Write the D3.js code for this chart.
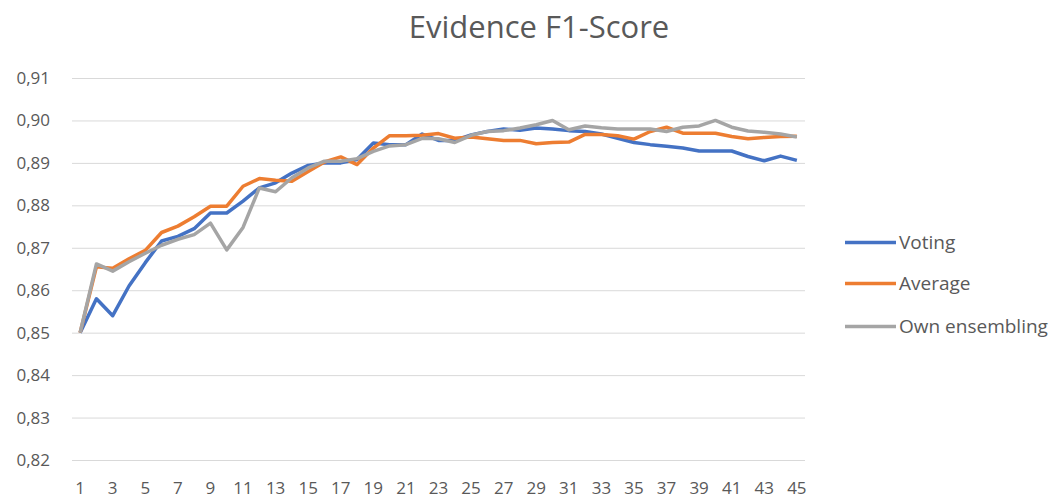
<!DOCTYPE html>
<html>
<head>
<meta charset="utf-8">
<script src="https://cdn.jsdelivr.net/npm/d3@7"></script>
<style>
  body { margin: 0; background: #fff; }
  text { font-family: "Open Sans", sans-serif; fill: #595959; }
</style>
</head>
<body>
<div id="chart"></div>
<script>
// epochs / categories on the x axis
const epochs = d3.range(1, 46);
const seriesNames = ["Voting", "Average", "Own ensembling"];
const seriesColors = ["#4472C4", "#ED7D31", "#A5A5A5"];
const yTicks = [0.82, 0.83, 0.84, 0.85, 0.86, 0.87, 0.88, 0.89, 0.90, 0.91];

// values
const voting = [0.850, 0.858, 0.854, 0.861, 0.8665, 0.8716, 0.8727, 0.8745, 0.8782, 0.8782,
  0.881, 0.8841, 0.8853, 0.8876, 0.8894, 0.8900, 0.8900, 0.8908, 0.8947, 0.8943,
  0.8943, 0.8968, 0.8953, 0.8953, 0.8966, 0.8974, 0.8980, 0.8977, 0.8982, 0.8980,
  0.8976, 0.8974, 0.8968, 0.8958, 0.8948, 0.8943, 0.8939, 0.8935, 0.8928, 0.8928,
  0.8928, 0.8915, 0.8905, 0.8916, 0.8906];
const average = [0.850, 0.8655, 0.8652, 0.8674, 0.8694, 0.8736, 0.8751, 0.8773, 0.8798, 0.8798,
  0.8845, 0.8863, 0.8859, 0.8857, 0.8880, 0.8902, 0.8914, 0.8896, 0.8935, 0.8964,
  0.8964, 0.8965, 0.8969, 0.8958, 0.8961, 0.8957, 0.8953, 0.8953, 0.8945, 0.8948,
  0.8949, 0.8967, 0.8967, 0.8964, 0.8956, 0.8974, 0.8984, 0.8970, 0.8970, 0.8970,
  0.8962, 0.8957, 0.8960, 0.8962, 0.8963];
const ownEnsembling = [0.850, 0.8662, 0.8645, 0.8667, 0.8687, 0.8706, 0.8720, 0.8731, 0.8758, 0.8695,
  0.8748, 0.8841, 0.8832, 0.8865, 0.8888, 0.8904, 0.8904, 0.8910, 0.8927, 0.8940,
  0.8943, 0.8958, 0.8957, 0.8948, 0.8965, 0.8974, 0.8976, 0.8982, 0.8990, 0.9000,
  0.8978, 0.8987, 0.8983, 0.8980, 0.8980, 0.8980, 0.8974, 0.8984, 0.8987, 0.9000,
  0.8984, 0.8975, 0.8972, 0.8968, 0.8961];
const allSeries = [voting, average, ownEnsembling];

const width = 1057, height = 499;
const svg = d3.select("#chart").append("svg")
    .attr("width", width)
    .attr("height", height);

const x = d3.scalePoint().domain(epochs).range([72, 805]).padding(0.5);
const y = d3.scaleLinear().domain([0.82, 0.91]).range([460, 78]);

const fmt = d3.formatLocale({decimal: ",", thousands: ".", grouping: [3], currency: ["", ""]}).format(".2f");

// gridlines
svg.append("g").selectAll("line").data(yTicks).enter().append("line")
    .attr("x1", 72).attr("x2", 805)
    .attr("y1", d => y(d) + 0.5).attr("y2", d => y(d) + 0.5)
    .attr("stroke", "#D9D9D9").attr("stroke-width", 1);

// y labels
svg.append("g").selectAll("text").data(yTicks).enter().append("text")
    .attr("x", 50).attr("y", d => y(d))
    .attr("dy", "0.35em")
    .attr("text-anchor", "end")
    .style("font-size", "17px")
    .text(d => fmt(d));

// x labels, every other epoch
svg.append("g").selectAll("text").data(epochs.filter(d => d % 2 == 1)).enter().append("text")
    .attr("x", d => x(d)).attr("y", 494)
    .attr("text-anchor", "middle")
    .style("font-size", "17px")
    .text(d => d);

// lines
let line = d3.line().x((d, i) => x(epochs[i])).y(d => y(d));
svg.append("g").selectAll("path").data(allSeries).enter().append("path")
    .attr("d", d => line(d))
    .attr("fill", "none")
    .attr("stroke", (d, i) => seriesColors[i])
    .attr("stroke-width", 3.5)
    .attr("stroke-linejoin", "round");

// title
svg.append("text")
    .attr("x", 539).attr("y", 38)
    .attr("text-anchor", "middle")
    .style("font-size", "31px")
    .text("Evidence F1-Score");

// legend
let legend = svg.append("g").selectAll("g").data(seriesNames).enter().append("g")
    .attr("transform", (d, i) => "translate(845," + [242.5, 283.5, 326.5][i] + ")");
legend.append("line")
    .attr("x1", 0).attr("x2", 51)
    .attr("stroke", (d, i) => seriesColors[i])
    .attr("stroke-width", 3.5);
legend.append("text")
    .attr("x", 54).attr("dy", "0.35em")
    .style("font-size", "19px")
    .text(d => d);
</script>
</body>
</html>
